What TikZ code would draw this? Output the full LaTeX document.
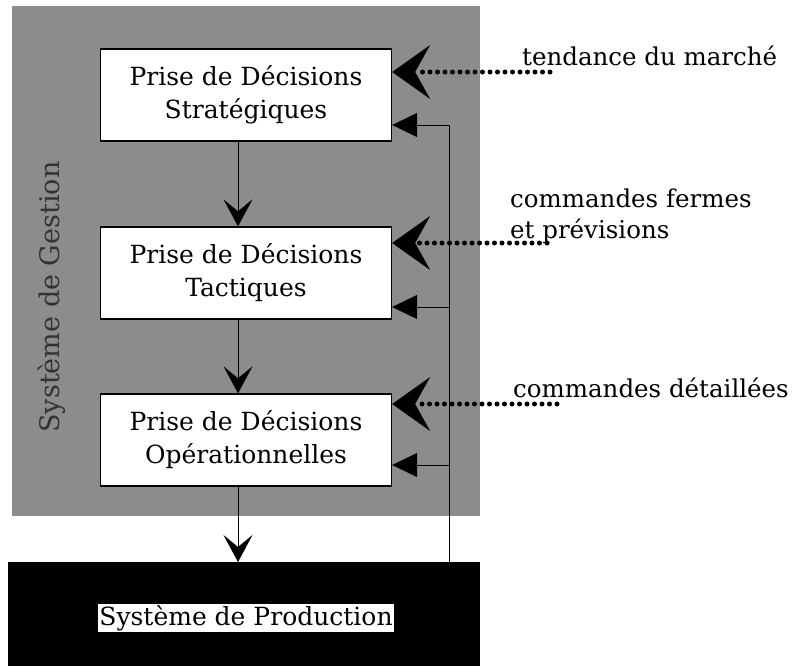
\documentclass[tikz,border=0pt]{standalone}
\usepackage{fontspec}
\setmainfont{DejaVu Serif}
\usetikzlibrary{arrows.meta}
\tikzset{
  decbox/.style={draw=black,line width=1.3pt,fill=white,minimum width=291pt,minimum height=92pt,
    align=center,inner sep=0pt,font=\fontsize{25}{33}\selectfont},
  lbl/.style={anchor=base west,inner sep=0pt,font=\fontsize{24.5}{31}\selectfont},
  flow/.style={line width=1pt,-{Stealth[length=27pt,width=29pt,inset=12pt]}},
  info/.style={line width=5pt,line cap=round,dash pattern=on 0pt off 7.5pt,
    -{Stealth[length=38pt,width=54pt,inset=15pt,line width=0pt]}},
  feedback/.style={line width=1pt,-{Triangle[length=25pt,width=24pt]}}
}
\begin{document}
\begin{tikzpicture}[x=1pt,y=-1pt]
  \useasboundingbox (0,0) rectangle (795,665);
  % gestion and production areas
  \fill[black!45] (12,6) rectangle (480,516);
  \fill[black] (8,562) rectangle (480,668);
  \node[rotate=90,text=black!80,font=\fontsize{27}{30}\selectfont] (gestion) at (52,297) {Système de Gestion};
  \node[fill=white,inner sep=1pt,font=\fontsize{25}{30}\selectfont] (prod) at (246,618) {Système de Production};
  \coordinate (prodtop) at (246,562);
  % decision levels
  \node[decbox] (strat) at (246,95) {Prise de Décisions\\Stratégiques};
  \node[decbox] (tact) at (246,273) {Prise de Décisions\\Tactiques};
  \node[decbox] (oper) at (246,440) {Prise de Décisions\\Opérationnelles};
  \def\colx{238}
  \draw[flow] (strat.south -| \colx,0) -- (tact.north -| \colx,0);
  \draw[flow] (tact.south -| \colx,0) -- (oper.north -| \colx,0);
  \draw[flow] (oper.south -| \colx,0) -- (prodtop -| \colx,0);
  % feedback from production
  \coordinate (fb) at (449,562);
  \draw[line width=1pt] (fb) -- (449,125);
  \foreach \lvl/\y in {strat/125,tact/307,oper/465} {
    \draw[feedback] (449,\y) -- (\lvl.east |- 0,\y);
  }
  % external information
  \node[lbl] (tend) at (522,65) {tendance du marché};
  \node[lbl] (cmdf) at (510,207) {commandes fermes};
  \node[lbl] (prev) at (510,238) {et prévisions};
  \node[lbl] (cmdd) at (513,397) {commandes détaillées};
  \foreach \lvl/\y/\xe in {strat/72/550,tact/243/547,oper/404/557} {
    \draw[info] (\xe,\y) -- (\lvl.east |- 0,\y);
  }
\end{tikzpicture}
\end{document}
